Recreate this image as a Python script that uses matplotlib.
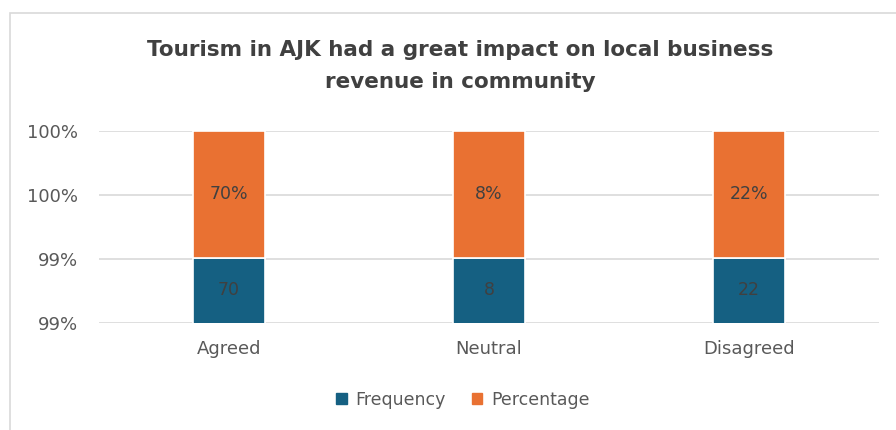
import numpy as np
import matplotlib.pyplot as plt
from matplotlib.patches import Rectangle
import math

categories = ['Agreed', 'Neutral', 'Disagreed']
frequency = [70, 8, 22]
percentage = [0.70, 0.08, 0.22]
pct_labels = ['70%', '8%', '22%']

# 100% stacked, like the spreadsheet did it
totals = [f + p for f, p in zip(frequency, percentage)]
freq_share = [100 * f / t for f, t in zip(frequency, totals)]
pct_share = [100 * p / t for p, t in zip(percentage, totals)]

blue = '#156082'
orange = '#E97132'
txt = '#595959'

fig = plt.figure(figsize=(8.96, 4.3), dpi=100)
ax = fig.add_axes([99 / 896, 1 - 323 / 430, 780 / 896, 192 / 430])

x = np.arange(len(categories))
ax.bar(x, freq_share, width=0.277, color=blue, edgecolor='white', linewidth=1.2, zorder=3)
ax.bar(x, pct_share, bottom=freq_share, width=0.277, color=orange, edgecolor='white', linewidth=1.2, zorder=3)

ymin = 98.5
for i in range(len(categories)):
    ax.text(x[i], (ymin + freq_share[i]) / 2, str(frequency[i]), ha='center', va='center',
            fontsize=12.5, color='#404040', zorder=4)
    ax.text(x[i], freq_share[i] + pct_share[i] / 2, pct_labels[i], ha='center', va='center',
            fontsize=12.5, color='#404040', zorder=4)

ax.set_xlim(-0.5, 2.5)
ax.set_ylim(ymin, 100)
ticks = [98.5, 99.0, 99.5, 100.0]
ax.set_yticks(ticks)
ax.set_yticklabels(['%d%%' % math.floor(t + 0.5) for t in ticks])
ax.set_xticks(x)
ax.set_xticklabels(categories)
ax.tick_params(axis='both', length=0, labelsize=13, labelcolor=txt)
ax.tick_params(axis='y', pad=15)
ax.tick_params(axis='x', pad=12)
ax.grid(axis='y', color='#D9D9D9', linewidth=1.2, zorder=0)
for s in ax.spines.values():
    s.set_visible(False)

fig.text(460 / 896, 1 - 66 / 430, 'Tourism in AJK had a great impact on local business\nrevenue in community',
         ha='center', va='center', fontsize=15.5, fontweight='bold', color='#404040',
         linespacing=1.8)

# chart frame
fig.add_artist(Rectangle((10 / 896, -0.1), 1.0, 1 - 13 / 430 + 0.1, transform=fig.transFigure,
                         fill=False, edgecolor='#D9D9D9', linewidth=1.2))

h1 = Rectangle((0, 0), 1, 1, color=blue)
h2 = Rectangle((0, 0), 1, 1, color=orange)
leg = fig.legend([h1, h2], ['Frequency', 'Percentage'], loc='center', bbox_to_anchor=(463 / 896, 1 - 400 / 430),
                 ncol=2, frameon=False, fontsize=12.5, handlelength=0.6, handleheight=0.6,
                 handletextpad=0.5, columnspacing=1.5)
for t in leg.get_texts():
    t.set_color(txt)

fig.savefig('out.png', dpi=100)
